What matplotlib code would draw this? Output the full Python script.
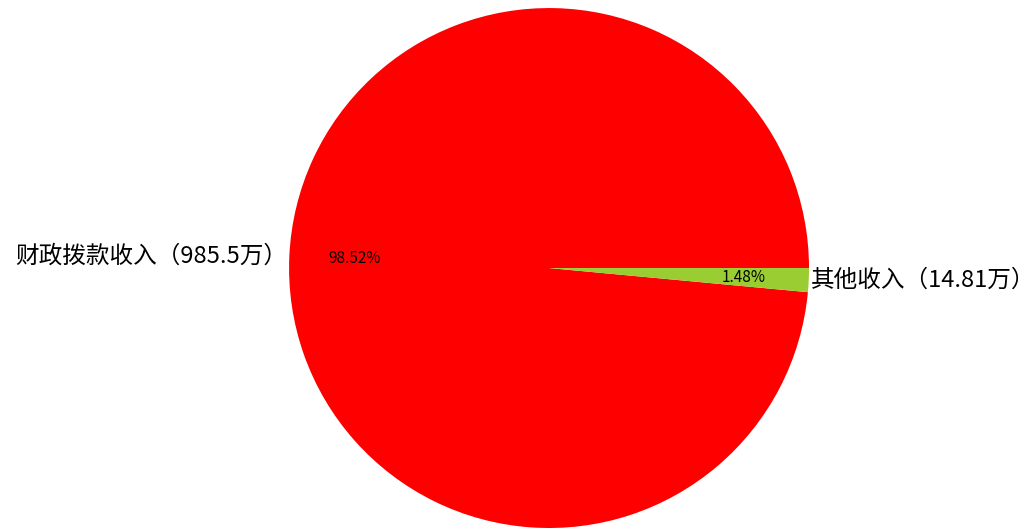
import matplotlib
matplotlib.use("Agg")
import matplotlib.pyplot as plt

plt.rcParams['font.family'] = ['Noto Sans CJK SC', 'DejaVu Sans']

labels = ['财政拨款收入（985.5万）', '其他收入（14.81万）']
values = [985.5, 14.81]
colors = ['#FF0000', '#9ACD32']

fig = plt.figure(figsize=(10.34, 5.31), dpi=100)
ax = fig.add_axes([0, 0, 1, 1])

wedges, texts, autotexts = ax.pie(values, labels=labels, colors=colors,
                                  autopct='%1.2f%%', startangle=0,
                                  labeldistance=1.01, pctdistance=0.75,
                                  textprops={'fontsize': 17})
for t in autotexts:
    t.set_fontsize(11)

ax.set_aspect('equal')
ax.set_xlim(-2.1115, 1.865)
ax.set_ylim(-1.0115, 1.031)

plt.savefig("out.png")
